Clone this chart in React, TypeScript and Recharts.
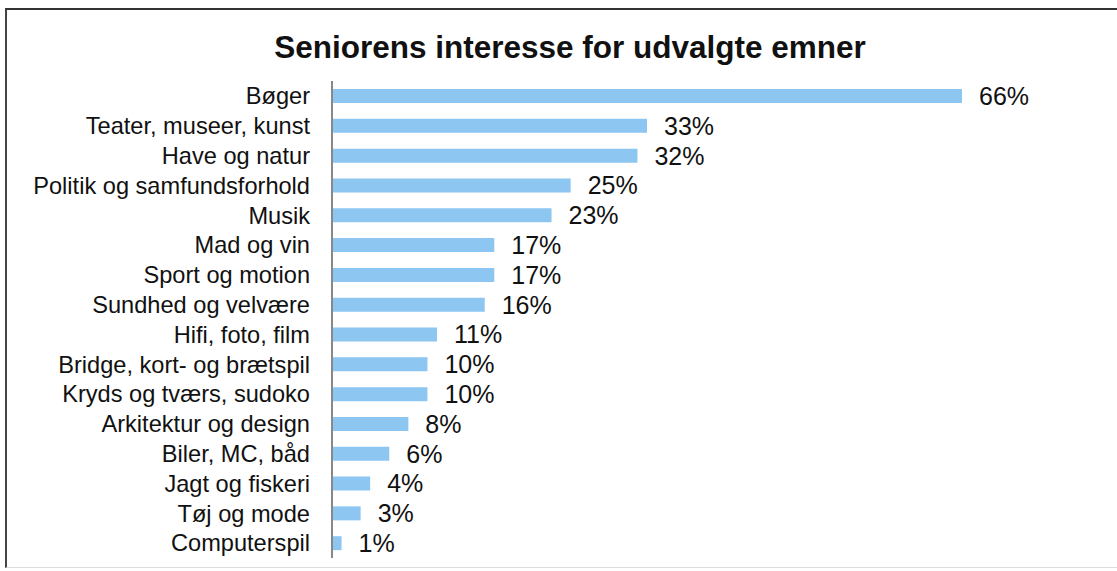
import React from 'react';
import { BarChart, Bar, XAxis, YAxis, LabelList } from 'recharts';

// Andel der interesserer sig for emnet (%)
const categories = [
  'Bøger',
  'Teater, museer, kunst',
  'Have og natur',
  'Politik og samfundsforhold',
  'Musik',
  'Mad og vin',
  'Sport og motion',
  'Sundhed og velvære',
  'Hifi, foto, film',
  'Bridge, kort- og brætspil',
  'Kryds og tværs, sudoko',
  'Arkitektur og design',
  'Biler, MC, båd',
  'Jagt og fiskeri',
  'Tøj og mode',
  'Computerspil',
];
const values = [66, 33, 32, 25, 23, 17, 17, 16, 11, 10, 10, 8, 6, 4, 3, 1];

const data = categories.map((name, i) => ({ name, value: values[i] }));

const FONT = '"Liberation Sans", Arial, sans-serif';

export default function App() {
  return (
    <div style={{ position: 'absolute', left: 0, top: 0, width: 1117, height: 571, background: '#fff', overflow: 'hidden' }}>
      {/* frame of the scanned figure */}
      <div
        style={{
          position: 'absolute',
          left: 5,
          top: 8,
          width: 1130,
          height: 557,
          borderTop: '2px solid #333',
          borderLeft: '2px solid #444',
          borderBottom: '1px solid #ddd',
        }}
      />
      <div
        style={{
          position: 'absolute',
          left: 0,
          top: 29,
          width: 1140,
          lineHeight: '36px',
          textAlign: 'center',
          fontFamily: FONT,
          fontWeight: 'bold',
          fontSize: 31.5,
          color: '#111',
        }}
      >
        Seniorens interesse for udvalgte emner
      </div>
      <div style={{ position: 'absolute', left: 0, top: 0 }}>
        <BarChart
          width={1117}
          height={571}
          data={data}
          layout="vertical"
          margin={{ top: 81, right: 155, bottom: 13, left: 0 }}
          barSize={14}
        >
          <XAxis type="number" domain={[0, 66]} hide />
          <YAxis
            type="category"
            dataKey="name"
            width={332}
            tickSize={0}
            tickMargin={22}
            axisLine={{ stroke: '#888', strokeWidth: 2 }}
            tick={{ fill: '#111', fontSize: 23.6, fontFamily: FONT }}
            interval={0}
          />
          <Bar dataKey="value" fill="#8ec6f2" isAnimationActive={false}>
            <LabelList
              dataKey="value"
              position="right"
              offset={17}
              formatter={(v: number) => `${v}%`}
              style={{ fill: '#111', fontSize: 25, fontFamily: FONT }}
            />
          </Bar>
        </BarChart>
      </div>
    </div>
  );
}
